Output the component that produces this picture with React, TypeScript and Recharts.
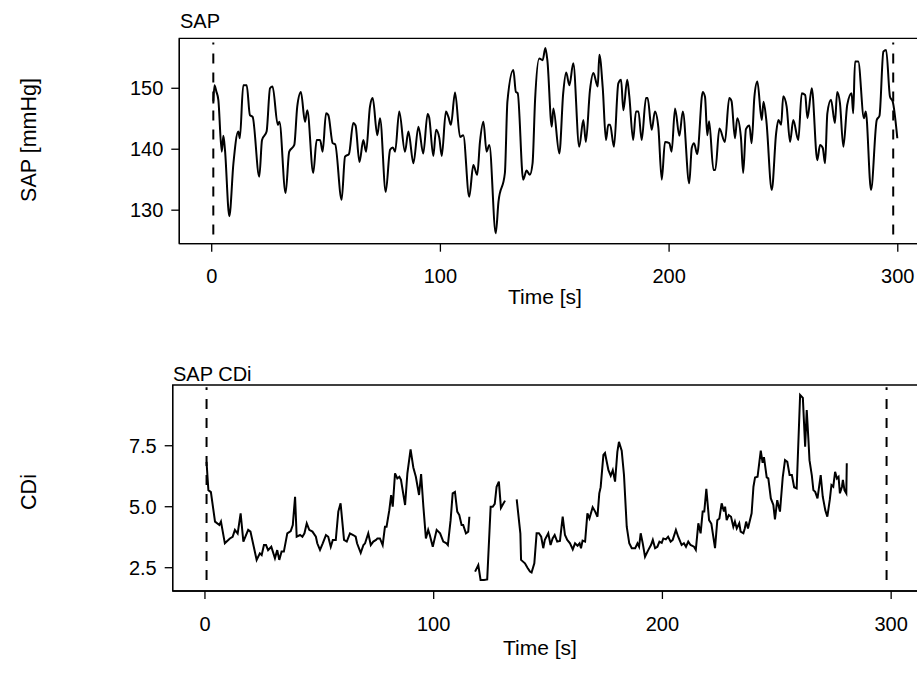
import React from 'react';
import { LineChart, Line, XAxis, YAxis, ReferenceLine, ReferenceArea } from 'recharts';

const FONT = '"Liberation Sans", Arial, sans-serif';

const timeTicks = [0, 100, 200, 300];
const sapTicks = [130, 140, 150];
const cdiTicks = [2.5, 5, 7.5];
const markerTimes = [0.7, 298];

const sapTimes = [
  0.7, 1.2, 2.0, 2.9, 4.4, 5.1, 5.8, 7.7, 9.5, 11.6, 12.3, 13.8, 15.3, 16.7, 17.9, 20.8, 22.0, 24.0, 25.5, 26.6,
  28.9, 29.6, 32.3, 33.9, 36.1, 37.4, 39.0, 40.8, 41.8, 44.4, 45.9, 47.4, 48.5, 50.0, 51.0, 52.9, 54.0, 56.8, 58.3, 60.0,
  61.9, 62.9, 64.6, 66.3, 67.5, 69.2, 70.4, 72.4, 73.6, 76.1, 78.0, 79.2, 80.2, 82.0, 84.5, 86.0, 88.2, 90.4, 92.5, 94.4,
  95.1, 96.9, 98.1, 99.5, 100.6, 102.4, 103.5, 104.6, 106.4, 108.6, 110.0, 112.6, 114.4, 116.1, 117.3, 118.8, 120.2, 121.4, 124.2, 125.4,
  128.2, 129.3, 131.9, 133.0, 133.8, 136.2, 137.7, 139.1, 140.3, 141.4, 143.2, 144.7, 145.9, 146.8, 148.7, 149.4, 152.0, 153.7, 155.0, 156.4,
  158.1, 160.7, 162.5, 163.6, 165.4, 166.9, 168.8, 169.5, 171.0, 172.4, 173.4, 174.2, 175.9, 177.8, 179.0, 180.0, 181.7, 182.6, 184.3, 185.5,
  186.6, 188.0, 189.9, 190.6, 192.4, 193.8, 195.3, 196.8, 198.2, 200.1, 201.1, 202.6, 204.5, 206.0, 208.8, 209.9, 210.9, 212.3, 214.7, 215.7,
  216.7, 217.5, 219.4, 220.2, 222.0, 224.4, 226.3, 227.3, 228.8, 229.8, 231.4, 232.4, 233.6, 235.1, 236.1, 237.3, 238.6, 240.5, 241.3, 242.5,
  244.9, 246.8, 247.8, 249.0, 249.9, 251.4, 252.9, 254.3, 256.5, 258.0, 259.5, 260.5, 262.4, 264.8, 266.0, 267.2, 268.2, 269.2, 270.8, 272.5,
  273.5, 274.7, 276.2, 277.9, 279.8, 280.5, 281.3, 282.7, 285.2, 286.0, 288.3, 290.8, 292.0, 293.7, 294.9, 296.6, 297.8, 299.8,
];
const sapValues = [
  147.5, 150.5, 149.5, 148.1, 139.6, 142.2, 139.9, 129.0, 137.7, 142.9, 141.8, 150.5, 150.5, 145.6, 145.3, 135.5, 141.5, 142.9, 150.0, 150.3,
  144.0, 144.5, 132.8, 139.6, 140.7, 147.0, 149.4, 144.5, 146.4, 136.1, 141.5, 141.5, 139.6, 145.9, 145.6, 141.0, 140.8, 131.7, 138.8, 139.2,
  144.3, 143.9, 137.9, 141.5, 139.6, 147.0, 148.4, 142.3, 145.1, 133.0, 139.9, 140.3, 139.6, 146.2, 139.6, 142.9, 137.7, 143.7, 139.3, 145.8,
  145.2, 138.9, 143.2, 141.9, 138.9, 146.2, 145.3, 144.0, 149.3, 142.0, 142.3, 132.2, 137.4, 135.8, 141.2, 144.5, 139.6, 140.7, 126.2, 131.4,
  136.1, 147.8, 153.0, 149.4, 149.2, 135.0, 136.5, 135.8, 137.7, 148.1, 154.9, 154.6, 156.6, 154.5, 143.7, 146.7, 139.3, 149.2, 152.6, 150.5,
  154.1, 140.4, 144.8, 141.2, 149.7, 152.5, 150.3, 155.5, 150.0, 141.5, 144.0, 144.0, 140.4, 150.8, 151.4, 146.4, 151.4, 148.7, 141.5, 146.2,
  146.2, 141.5, 148.4, 148.4, 143.2, 146.2, 143.6, 135.0, 141.2, 141.0, 139.6, 146.7, 142.2, 146.2, 134.4, 140.2, 141.0, 139.2, 149.4, 148.6,
  142.3, 144.6, 136.6, 136.6, 143.4, 141.2, 148.4, 147.9, 141.8, 145.1, 142.0, 136.1, 143.3, 143.9, 141.0, 148.6, 151.1, 144.8, 147.8, 144.8,
  133.3, 142.6, 144.8, 144.0, 148.7, 147.0, 141.2, 144.8, 141.5, 149.2, 148.9, 145.1, 150.0, 138.2, 140.7, 140.2, 137.7, 145.9, 148.1, 144.3,
  149.4, 147.6, 140.4, 147.3, 149.2, 145.9, 154.4, 154.4, 145.1, 146.2, 133.3, 144.8, 145.5, 156.0, 156.3, 148.6, 147.8, 141.8,
];

const cdiTimes = [
  0.7, 1.2, 1.5, 2.6, 4.4, 6.3, 7.0, 8.7, 10.9, 12.1, 13.1, 14.3, 15.6, 16.8, 18.9, 19.9, 22.6, 24.0, 24.8, 25.8,
  26.7, 27.6, 29.0, 30.6, 31.6, 32.5, 33.5, 34.5, 36.0, 37.5, 38.4, 39.4, 40.1, 41.6, 42.6, 43.5, 44.5, 45.6, 47.0, 48.5,
  49.1, 50.3, 51.5, 52.9, 53.9, 55.0, 55.9, 57.2, 58.3, 59.3, 60.8, 62.0, 63.4, 64.8, 65.9, 66.5, 68.1, 69.3, 70.0, 71.4,
  72.5, 73.6, 74.8, 75.4, 76.5, 77.7, 78.7, 79.4, 80.6, 81.4, 82.1, 83.1, 84.1, 85.0, 85.7, 87.5, 88.5, 89.9, 91.1, 92.2,
  93.6, 94.5, 95.5, 96.6, 97.6, 98.3, 99.6, 101.3, 102.8, 104.2, 105.6, 106.2, 107.4, 108.3, 109.3, 110.3, 111.2, 112.2, 112.9, 114.1,
  115.1, 115.6, 116.8, 118.1, 119.5, 120.5, 122.0, 123.4, 124.9, 125.8, 126.7, 127.5, 128.5, 129.4, 130.1, 131.2, 133.5, 136.3, 137.9, 138.2,
  139.9, 141.0, 142.1, 142.8, 144.0, 145.0, 146.0, 147.0, 147.9, 148.6, 150.1, 151.1, 152.0, 152.9, 154.0, 155.2, 156.4, 157.4, 158.4, 159.6,
  160.8, 161.8, 162.9, 163.8, 164.4, 165.1, 166.2, 167.2, 168.1, 169.5, 170.6, 171.6, 172.4, 173.0, 174.2, 174.9, 176.4, 177.4, 178.3, 179.3,
  180.3, 181.0, 182.2, 183.2, 184.4, 185.5, 186.6, 188.1, 189.1, 189.8, 190.5, 191.4, 192.4, 193.8, 195.0, 195.8, 196.8, 197.8, 198.7, 199.7,
  200.4, 201.5, 202.5, 203.6, 204.5, 205.9, 206.9, 208.4, 209.4, 210.3, 211.3, 212.3, 213.8, 214.6, 215.7, 216.7, 217.6, 218.3, 219.2, 220.4,
  221.4, 223.0, 224.0, 224.9, 225.9, 226.9, 227.4, 228.1, 229.0, 230.0, 231.0, 231.7, 232.5, 233.6, 234.2, 235.4, 236.0, 236.6, 237.4, 239.0,
  239.8, 240.5, 241.6, 243.0, 243.8, 244.4, 245.6, 246.3, 247.4, 248.5, 249.2, 250.2, 251.4, 252.6, 253.6, 254.6, 255.6, 256.6, 257.6, 258.7,
  260.2, 261.4, 262.4, 263.1, 263.8, 264.3, 265.3, 266.0, 266.8, 267.8, 269.2, 270.1, 271.2, 272.1, 273.2, 273.9, 274.7, 275.5, 276.3, 277.0,
  277.6, 278.5, 278.9, 279.6, 280.4, 280.6,
];
const cdiValues: (number | null)[] = [
  6.84, 6.1, 5.68, 5.6, 4.39, 4.25, 4.39, 3.5, 3.7, 3.77, 4.05, 3.9, 4.73, 3.57, 4.05, 3.98, 2.82, 3.09, 3.02, 3.43,
  3.43, 3.22, 3.36, 2.89, 3.22, 2.82, 3.16, 3.16, 3.91, 4.0, 4.25, 5.41, 3.77, 3.84, 3.77, 3.91, 4.32, 4.05, 3.98, 3.77,
  3.5, 3.23, 3.5, 3.84, 3.77, 3.36, 3.64, 3.64, 4.8, 5.14, 3.64, 3.57, 3.91, 3.84, 3.77, 3.5, 3.11, 3.43, 3.5, 3.91,
  3.43, 3.57, 3.64, 3.7, 3.7, 3.43, 4.18, 4.18, 4.86, 5.48, 5.0, 6.37, 6.16, 6.23, 6.1, 5.07, 6.37, 7.35, 6.61, 6.23,
  5.48, 6.34, 5.0, 3.7, 4.05, 3.84, 3.36, 4.05, 3.91, 3.57, 3.5, 3.43, 4.45, 5.55, 5.61, 4.8, 4.66, 4.25, 4.25, 3.91,
  3.98, 4.59, null, 2.34, 2.61, 2.0, 2.0, 2.02, 5.0, 5.0, 5.12, 5.82, 6.03, 4.95, 5.07, 5.25, null, 5.3, 3.9, 2.82,
  2.68, 2.5, 2.34, 2.3, 2.68, 3.91, 3.91, 3.77, 3.3, 3.64, 3.91, 3.43, 3.7, 3.84, 3.57, 3.6, 4.59, 3.84, 3.64, 3.5,
  3.25, 3.5, 3.4, 3.5, 3.3, 3.61, 3.57, 4.73, 4.52, 4.98, 4.8, 4.59, 5.55, 5.8, 7.12, 7.2, 6.5, 6.27, 6.5, 6.03,
  7.25, 7.66, 7.3, 6.3, 4.18, 3.5, 3.3, 3.3, 3.5, 3.36, 3.91, 3.5, 2.95, 3.22, 3.43, 3.64, 3.3, 3.36, 3.57, 3.52,
  3.7, 3.66, 3.77, 3.57, 3.64, 4.05, 3.77, 3.43, 3.5, 3.36, 3.57, 3.43, 3.36, 3.23, 4.32, 3.91, 4.8, 4.8, 5.73, 4.45,
  4.3, 3.3, 4.45, 4.52, 5.14, 4.8, 5.0, 4.45, 4.66, 4.59, 4.18, 4.39, 4.11, 4.32, 3.98, 3.91, 4.11, 4.39, 4.11, 4.73,
  5.82, 6.2, 6.23, 7.3, 6.8, 7.03, 6.2, 6.16, 5.34, 5.07, 4.48, 5.27, 4.8, 6.2, 6.91, 6.84, 6.3, 6.3, 5.8, 5.75,
  9.58, 9.46, 7.46, 8.96, 7.8, 6.91, 6.3, 5.68, 5.61, 5.34, 6.3, 5.41, 4.86, 4.59, 5.3, 5.89, 5.82, 6.43, 6.16, 6.23,
  5.55, 5.82, 6.1, 5.68, 5.55, 6.78,
];

const sapData = sapTimes.map((t, i) => ({ t, v: sapValues[i] }));
const cdiData = cdiTimes.map((t, i) => ({ t, v: cdiValues[i] }));

const tickStyle = { fill: '#000', fontSize: 20, fontFamily: FONT };

interface PanelProps {
  data: { t: number; v: number | null }[];
  top: number;
  height: number;
  margin: { top: number; right: number; bottom: number; left: number };
  xDomain: [number, number];
  yDomain: [number, number];
  yTicks: number[];
  yFormat: (v: number) => string;
  markerRange: [number, number];
  curve: 'monotone' | 'linear';
  xTickGap: number;
}

const Panel: React.FC<PanelProps> = ({ data, top, height, margin, xDomain, yDomain, yTicks, yFormat, markerRange, curve, xTickGap }) => (
  <div style={{ position: 'absolute', left: 0, top }}>
    <LineChart width={935} height={height} data={data} margin={margin}>
      <XAxis
        dataKey="t"
        type="number"
        domain={xDomain}
        ticks={timeTicks}
        allowDataOverflow
        height={30}
        tick={tickStyle}
        tickSize={8}
        tickMargin={xTickGap}
        stroke="#000"
        strokeWidth={1.3}
      />
      <YAxis
        type="number"
        domain={yDomain}
        ticks={yTicks}
        allowDataOverflow
        width={60}
        tick={tickStyle}
        tickSize={8}
        tickMargin={8}
        tickFormatter={yFormat}
        stroke="#000"
        strokeWidth={1.3}
      />
      <ReferenceArea
        x1={xDomain[0]}
        x2={xDomain[1]}
        y1={yDomain[0]}
        y2={yDomain[1]}
        fill="none"
        stroke="#000"
        strokeWidth={1.3}
        ifOverflow="visible"
      />
      {markerTimes.map((m) => (
        <ReferenceLine
          key={m}
          segment={[{ x: m, y: markerRange[0] }, { x: m, y: markerRange[1] }]}
          stroke="#000"
          strokeWidth={2}
          strokeDasharray="10 9"
        />
      ))}
      <Line
        type={curve}
        dataKey="v"
        stroke="#000"
        strokeWidth={2}
        dot={false}
        activeDot={false}
        connectNulls={false}
        isAnimationActive={false}
      />
    </LineChart>
  </div>
);

const App: React.FC = () => {
  return (
    <div style={{ position: 'absolute', left: 0, top: 0, width: 917, height: 679, overflow: 'hidden', background: '#fff' }}>
      <Panel
        data={sapData}
        top={0}
        height={320}
        margin={{ top: 38.3, right: 10, bottom: 46.3, left: 119.3 }}
        xDomain={[-14.17, 311.9]}
        yDomain={[124.5, 158.2]}
        yTicks={sapTicks}
        yFormat={(v) => String(v)}
        markerRange={[126, 157.5]}
        curve="monotone"
        xTickGap={17}
      />
      <Panel
        data={cdiData}
        top={340}
        height={330}
        margin={{ top: 45, right: 10, bottom: 49, left: 112.7 }}
        xDomain={[-14.1, 314.8]}
        yDomain={[1.545, 9.99]}
        yTicks={cdiTicks}
        yFormat={(v) => v.toFixed(1)}
        markerRange={[2.0, 9.9]}
        curve="linear"
        xTickGap={18}
      />
      <svg width={917} height={679} style={{ position: 'absolute', left: 0, top: 0, pointerEvents: 'none' }}>
        <g fontFamily={FONT} fill="#000">
          <text x={180} y={28} fontSize={20}>SAP</text>
          <text x={173} y={381} fontSize={20}>SAP CDi</text>
          <text x={545} y={304} fontSize={21} textAnchor="middle">Time [s]</text>
          <text x={540} y={655} fontSize={21} textAnchor="middle">Time [s]</text>
          <text x={36} y={140} fontSize={21.5} textAnchor="middle" transform="rotate(-90 36 140)">SAP [mmHg]</text>
          <text x={36} y={492} fontSize={21.5} textAnchor="middle" transform="rotate(-90 36 492)">CDi</text>
        </g>
      </svg>
    </div>
  );
};

export default App;
